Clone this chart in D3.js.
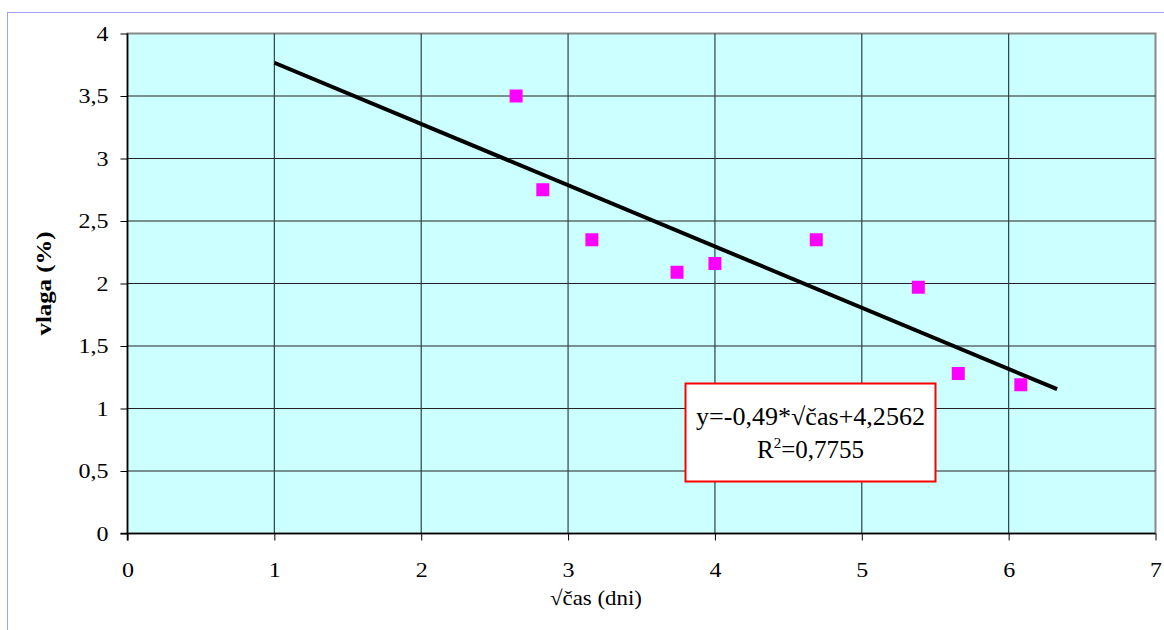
<!DOCTYPE html>
<html><head><meta charset="utf-8">
<script src="https://cdn.jsdelivr.net/npm/d3@7"></script>
<style>body{margin:0;background:#fff}svg{display:block}svg text{font-family:"Liberation Serif","Times New Roman",Times,serif;fill:#000}</style>
</head><body>
<script>
const xValues = [2.646, 2.828, 3.162, 3.742, 4.0, 4.690, 5.385, 5.657, 6.083];
const yValues = [3.5, 2.75, 2.35, 2.09, 2.16, 2.35, 1.97, 1.28, 1.19];
const xTicks = [0,1,2,3,4,5,6,7];
const yTicks = [0,0.5,1,1.5,2,2.5,3,3.5,4];
const trendSlope = -0.49, trendIntercept = 4.2562;
const trendRange = [1, 6.33];
const eqLines = ["y=-0,49*√čas+4,2562", "R²=0,7755"];
const xTitle = "√čas (dni)", yTitle = "vlaga (%)";

const W=1164,H=630;
const svg=d3.select("body").append("svg").attr("width",W).attr("height",H);
function stretch(sel,f){sel.each(function(){const n=this;const l=n.getComputedTextLength();d3.select(n).attr("textLength",l*f).attr("lengthAdjust","spacingAndGlyphs");});}
function fit(sel,w){sel.attr("textLength",w).attr("lengthAdjust","spacingAndGlyphs");}

// outer frame
svg.append("rect").attr("x",7.5).attr("y",12.5).attr("width",W).attr("height",H).attr("fill","#fff").attr("stroke","#a0a0ff").attr("stroke-width",1);

const L=127.5,R=1155.5,T=33.5,B=533.5;
const x=d3.scaleLinear().domain([0,7]).range([L,R]);
const y=d3.scaleLinear().domain([0,4]).range([B,T]);

svg.append("rect").attr("x",L).attr("y",T).attr("width",R-L).attr("height",B-T).attr("fill","#ccffff").attr("stroke","#888").attr("stroke-width",2);

const fmt=d=>String(d).replace(".",",");
// grid
svg.append("g").selectAll("line").data(yTicks.filter(d=>d>0&&d<4)).join("line")
 .attr("x1",L).attr("x2",R).attr("y1",d=>y(d)).attr("y2",d=>y(d)).attr("stroke","#222").attr("stroke-width",1.2);
svg.append("g").selectAll("line").data(xTicks.filter(d=>d>0&&d<7)).join("line")
 .attr("y1",T).attr("y2",B).attr("x1",d=>x(d)).attr("x2",d=>x(d)).attr("stroke","#2a4444").attr("stroke-width",1.2);

// axes
const ya=d3.axisLeft(y).tickValues(yTicks).tickSize(7).tickFormat(fmt);
const gy=svg.append("g").attr("transform",`translate(${L},0)`).call(ya).attr("font-family",null).attr("font-size",null);
gy.select(".domain").attr("stroke","#000").attr("stroke-width",1.5).attr("d",`M0,${T}V${B+7}`);
gy.selectAll(".tick line").attr("stroke","#000");
gy.selectAll("text").style("font-size","20px").attr("fill","#000").attr("x",-19).attr("dy","0.34em").call(stretch,1.2);

const xa=d3.axisBottom(x).tickValues(xTicks).tickSize(7).tickFormat(fmt);
const gx=svg.append("g").attr("transform",`translate(0,${B})`).call(xa).attr("font-family",null).attr("font-size",null);
gx.select(".domain").attr("stroke","#000").attr("stroke-width",1.5).attr("d",`M${L-7},0H${R}`);
gx.selectAll(".tick line").attr("stroke","#000");
gx.selectAll("text").style("font-size","20px").attr("fill","#000").attr("y",37).attr("dy","0.32em").call(stretch,1.2);

// trend line
svg.append("line").attr("x1",x(trendRange[0])).attr("y1",y(trendSlope*trendRange[0]+trendIntercept))
 .attr("x2",x(trendRange[1])).attr("y2",y(trendSlope*trendRange[1]+trendIntercept))
 .attr("stroke","#000").attr("stroke-width",4);

// points
svg.append("g").selectAll("rect").data(xValues.map((v,i)=>[v,yValues[i]])).join("rect")
 .attr("x",d=>x(d[0])-6.5).attr("y",d=>y(d[1])-6.5).attr("width",13).attr("height",13).attr("fill","#ff00ff");

// equation box
const bx=685.5,by=383.5,bw=250,bh=98;
svg.append("rect").attr("x",bx).attr("y",by).attr("width",bw).attr("height",bh).attr("fill","#fff").attr("stroke","#ff0000").attr("stroke-width",2);
svg.append("text").attr("x",bx+bw/2).attr("y",425).attr("text-anchor","middle").style("font-size","25px").text(eqLines[0]).call(fit,229);
const t2=svg.append("text").attr("x",bx+bw/2).attr("y",458).attr("text-anchor","middle").style("font-size","25px");
t2.append("tspan").text("R");
t2.append("tspan").style("font-size","15px").attr("dy",-10).text("2");
t2.append("tspan").attr("dy",10).text("=0,7755");

// titles
svg.append("text").attr("x",596).attr("y",605).attr("text-anchor","middle").style("font-size","21px").text(xTitle).call(fit,92);
svg.append("text").attr("transform",`translate(51,${(T+B)/2}) rotate(-90)`).attr("text-anchor","middle").style("font-size","20px").style("font-weight","bold").text(yTitle).call(fit,104);
</script>
</body></html>
